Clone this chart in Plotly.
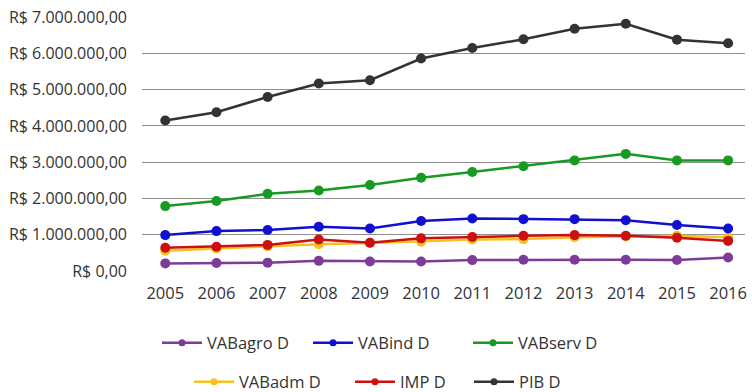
import plotly.graph_objects as go

years = [2005, 2006, 2007, 2008, 2009, 2010, 2011, 2012, 2013, 2014, 2015, 2016]

vab_agro = [210000, 220000, 230000, 280000, 260000, 260000, 300000, 310000, 310000, 310000, 305000, 370000]
vab_ind = [990000, 1100000, 1130000, 1220000, 1170000, 1380000, 1450000, 1430000, 1430000, 1400000, 1270000, 1170000]
vab_serv = [1790000, 1930000, 2130000, 2220000, 2370000, 2570000, 2730000, 2890000, 3050000, 3230000, 3050000, 3050000]
vab_adm = [560000, 620000, 680000, 740000, 770000, 810000, 870000, 880000, 930000, 950000, 970000, 930000]
imp = [640000, 670000, 720000, 870000, 780000, 900000, 940000, 970000, 990000, 970000, 920000, 830000]
pib = [4150000, 4380000, 4800000, 5170000, 5260000, 5860000, 6150000, 6390000, 6680000, 6820000, 6380000, 6280000]

y_tickvals = [0, 1000000, 2000000, 3000000, 4000000, 5000000, 6000000, 7000000]
y_ticktext = ["R$ 0,00", "R$ 1.000.000,00", "R$ 2.000.000,00", "R$ 3.000.000,00",
              "R$ 4.000.000,00", "R$ 5.000.000,00", "R$ 6.000.000,00", "R$ 7.000.000,00"]

# name, values, color, legend row, legend entry width
series = [
    ("VABagro D", vab_agro, "#7d3c98", "legend", 96),
    ("VABind D", vab_ind, "#1010d0", "legend", 105),
    ("VABserv D", vab_serv, "#179a22", "legend", 80),
    ("VABadm D", vab_adm, "#f7c01c", "legend2", 106),
    ("IMP D", imp, "#cc1010", "legend2", 64),
    ("PIB D", pib, "#333333", "legend2", 50),
]

fig = go.Figure()
order = [0, 3, 4, 1, 2, 5]
for i in order:
    name, vals, color, leg, lw = series[i]
    fig.add_trace(go.Scatter(
        x=years, y=vals, name=name, mode="lines+markers",
        line=dict(color=color, width=2.5),
        marker=dict(color=color, size=10),
        showlegend=False,
    ))
# legend-only entries (smaller legend markers, as in the reference)
for i, (name, vals, color, leg, lw) in enumerate(series):
    fig.add_trace(go.Scatter(
        x=[None], y=[None], name=name, mode="lines+markers",
        line=dict(color=color, width=2.5),
        marker=dict(color=color, size=7),
        legend=leg, legendrank=i, legendwidth=lw, showlegend=True,
    ))

font = "Open Sans, Noto Sans, sans-serif"
W, H = 752, 392
fig.update_layout(
    width=W, height=H,
    margin=dict(l=142, r=7, t=17, b=121, autoexpand=False),
    paper_bgcolor="white", plot_bgcolor="white",
    font=dict(family=font, size=16, color="#333333"),
    xaxis=dict(range=[2004.545, 2016.33], tickvals=years, ticktext=[str(y) for y in years],
               showgrid=False, zeroline=False, showline=False, ticklabelstandoff=10,
               automargin=False, tickfont=dict(size=16.5, color="#333333")),
    yaxis=dict(range=[0, 7005000], tickvals=y_tickvals, ticktext=y_ticktext,
               showgrid=True, gridcolor="#8f8f8f", gridwidth=1.2, zeroline=False,
               showline=False, ticklabelstandoff=14, automargin=False,
               ticklabeloverflow="allow",
               tickfont=dict(size=16, color="#333333")),
    legend=dict(orientation="h", xref="container", yref="container",
                x=157 / W, xanchor="left", itemwidth=40,
                y=1 - 343 / H, yanchor="middle", font=dict(size=16.5, color="#333333"),
                traceorder="normal", bgcolor="rgba(0,0,0,0)"),
    legend2=dict(orientation="h", xref="container", yref="container",
                 x=189 / W, xanchor="left", itemwidth=40,
                 y=1 - 382 / H, yanchor="middle", font=dict(size=16.5, color="#333333"),
                 traceorder="normal", bgcolor="rgba(0,0,0,0)"),
    showlegend=True,
)

# remove the browser's default 8px body margin so the figure sits at the page origin
fig.write_html("out.html", config={"displayModeBar": False},
               post_script="document.body.style.margin='0';")
